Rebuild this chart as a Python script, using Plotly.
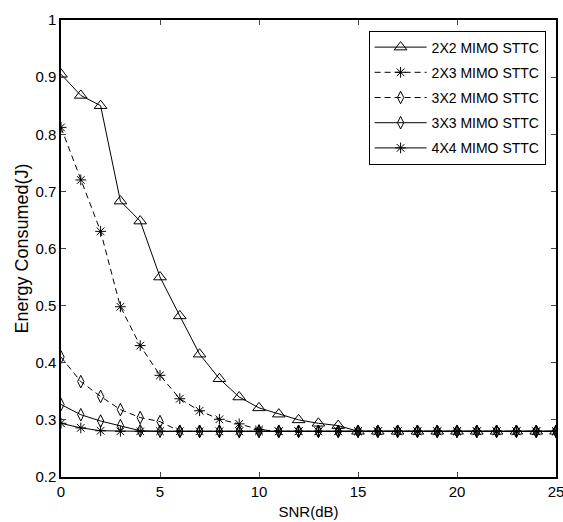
import plotly.graph_objects as go

snr = list(range(0, 26))
e_2x2 = [0.905, 0.868, 0.850, 0.683, 0.648, 0.550, 0.482, 0.415, 0.372, 0.340, 0.321, 0.310, 0.300, 0.294, 0.290] + [0.28] * 11
e_2x3 = [0.812, 0.720, 0.630, 0.498, 0.430, 0.378, 0.337, 0.316, 0.301, 0.293, 0.283] + [0.28] * 15
e_3x2 = [0.410, 0.367, 0.341, 0.318, 0.304, 0.297] + [0.28] * 20
e_3x3 = [0.327, 0.309, 0.298, 0.290, 0.281] + [0.28] * 21
e_4x4 = [0.294, 0.286, 0.281] + [0.28] * 23

series = [
    ("2X2 MIMO STTC", e_2x2, "solid", "triangle-up-open", 11),
    ("2X3 MIMO STTC", e_2x3, "6px,4px", "asterisk-open", 9),
    ("3X2 MIMO STTC", e_3x2, "6px,4px", "diamond-tall-open", 9),
    ("3X3 MIMO STTC", e_3x3, "solid", "diamond-tall-open", 9),
    ("4X4 MIMO STTC", e_4x4, "solid", "asterisk-open", 9),
]

fig = go.Figure()
for i, (name, vals, dash, sym, sz) in enumerate(series):
    fig.add_trace(go.Scatter(
        x=snr, y=vals, name=name, mode="lines+markers",
        legendgroup=f"g{i}",
        line=dict(color="black", width=1, dash=dash),
        marker=dict(symbol=sym, size=sz, color="black", line=dict(color="black", width=1)),
    ))

fam = "Liberation Sans, Arial, sans-serif"
fig.update_layout(
    width=563, height=522,
    margin=dict(l=61, r=7, t=20, b=45),
    paper_bgcolor="white", plot_bgcolor="white",
    font=dict(family=fam, size=15, color="black"),
    showlegend=True,
    legend=dict(x=0.979, y=0.977, xanchor="right", yanchor="top",
                bgcolor="white", bordercolor="black", borderwidth=1,
                font=dict(family=fam, size=14, color="black"),
                itemwidth=52, tracegroupgap=4),
    xaxis=dict(range=[0, 25], tickvals=[0, 5, 10, 15, 20, 25], ticks="inside", ticklen=5,
               tickfont=dict(family=fam, size=15), automargin=False, ticklabeloverflow="allow",
               showline=True, linecolor="black", linewidth=1.5, mirror="ticks",
               showgrid=False, zeroline=False,
               title=dict(text="SNR(dB)", standoff=8, font=dict(family=fam, size=15))),
    yaxis=dict(range=[0.2, 1.0], tickvals=[0.2, 0.3, 0.4, 0.5, 0.6, 0.7, 0.8, 0.9, 1.0],
               ticktext=["0.2", "0.3", "0.4", "0.5", "0.6", "0.7", "0.8", "0.9", "1"],
               ticks="inside", ticklen=5, tickfont=dict(family=fam, size=15),
               automargin=False, ticklabeloverflow="allow",
               showline=True, linecolor="black", linewidth=1.5, mirror="ticks",
               showgrid=False, zeroline=False,
               title=dict(text="Energy Consumed(J)", standoff=2, font=dict(family=fam, size=18))),
)

fig.write_html("out.html")
